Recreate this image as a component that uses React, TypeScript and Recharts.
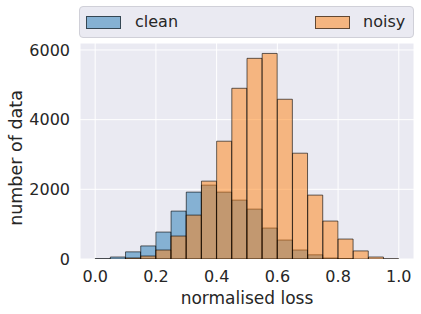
import { ComposedChart, Bar, XAxis, YAxis, CartesianGrid, Label } from "recharts";

// histogram bins: 20 bins of width 0.05 over [0, 1], listed by left edge
const binStarts = [
  0.0, 0.05, 0.1, 0.15, 0.2, 0.25, 0.3, 0.35, 0.4, 0.45,
  0.5, 0.55, 0.6, 0.65, 0.7, 0.75, 0.8, 0.85, 0.9, 0.95,
];
const BIN_WIDTH = 0.05;
const cleanCounts = [10, 57, 205, 375, 773, 1375, 1920, 2120, 1920, 1690, 1432, 888, 544, 258, 120, 29, 10, 0, 0, 0];
const noisyCounts = [0, 0, 30, 86, 258, 659, 1260, 2235, 3381, 4900, 5760, 5900, 4585, 3037, 1834, 1089, 573, 232, 57, 6];
const xTicks = [0, 0.2, 0.4, 0.6, 0.8, 1.0];
const yTicks = [0, 2000, 4000, 6000];

const data = binStarts.map((s, i) => ({
  mid: +(s + BIN_WIDTH / 2).toFixed(3),
  clean: cleanCounts[i],
  noisy: noisyCounts[i],
}));

const FONT = "'DejaVu Sans', sans-serif";
const TEXT = "#262626";
const BG = "#eaeaf2";
const W = 421;
const H = 314;
const X_DOMAIN = [-0.05, 1.05];

function LegendBox() {
  const patch = (color: string) => (
    <span
      style={{
        display: "inline-block",
        width: 33,
        height: 11,
        background: color,
        border: "1px solid rgba(0,0,0,0.6)",
      }}
    />
  );
  return (
    <div
      style={{
        position: "absolute",
        left: 79,
        top: 6,
        width: 333,
        height: 30,
        background: BG,
        border: "1px solid #d0d0d8",
        borderRadius: 4,
        fontFamily: FONT,
        fontSize: 16,
        color: TEXT,
      }}
    >
      <div style={{ position: "absolute", left: 6, top: 8.5, lineHeight: 0 }}>{patch("rgba(31,119,180,0.5)")}</div>
      <div style={{ position: "absolute", left: 55, top: 5, lineHeight: "20px" }}>clean</div>
      <div style={{ position: "absolute", left: 235, top: 8.5, lineHeight: 0 }}>{patch("rgba(255,127,14,0.5)")}</div>
      <div style={{ position: "absolute", left: 283, top: 5, lineHeight: "20px" }}>noisy</div>
    </div>
  );
}

export default function App() {
  return (
    <div style={{ position: "absolute", left: 0, top: 0, width: W, height: H, background: "#fff" }}>
      <ComposedChart
        width={W}
        height={H}
        data={data}
        margin={{ top: 43, right: 7, left: 8, bottom: 0 }}
        barCategoryGap={0}
        barGap={0}
      >
        <CartesianGrid xAxisId="x" fill={BG} stroke="#ffffff" strokeWidth={1} strokeDasharray="" />
        <XAxis
          xAxisId="x"
          dataKey="mid"
          type="number"
          domain={X_DOMAIN}
          ticks={xTicks}
          tickFormatter={(v: number) => v.toFixed(1)}
          tickLine={false}
          axisLine={false}
          tickMargin={6}
          height={55}
          tick={{ fill: TEXT, fontSize: 16, fontFamily: FONT }}
          allowDataOverflow
        >
          <Label
            value="normalised loss"
            position="insideBottom"
            offset={10}
            style={{ fill: TEXT, fontSize: 17, fontFamily: FONT }}
          />
        </XAxis>
        <XAxis
          xAxisId="x2"
          dataKey="mid"
          type="number"
          domain={X_DOMAIN}
          hide
          orientation="top"
          height={0}
          allowDataOverflow
        />
        <YAxis
          domain={[0, 6200]}
          ticks={yTicks}
          width={72}
          tickLine={false}
          axisLine={false}
          tickMargin={4}
          tick={{ fill: TEXT, fontSize: 16, fontFamily: FONT }}
          allowDataOverflow
        >
          <Label
            content={() => (
              <text
                x={16}
                y={158}
                transform="rotate(-90, 16, 158)"
                textAnchor="middle"
                dominantBaseline="central"
                fill={TEXT}
                fontSize={17.5}
                fontFamily={FONT}
              >
                number of data
              </text>
            )}
          />
        </YAxis>
        <Bar
          xAxisId="x"
          dataKey="clean"
          name="clean"
          fill="#1f77b4"
          fillOpacity={0.5}
          stroke="#000"
          strokeOpacity={0.6}
          strokeWidth={1}
          isAnimationActive={false}
        />
        <Bar
          xAxisId="x2"
          dataKey="noisy"
          name="noisy"
          fill="#ff7f0e"
          fillOpacity={0.5}
          stroke="#000"
          strokeOpacity={0.6}
          strokeWidth={1}
          isAnimationActive={false}
        />
      </ComposedChart>
      <LegendBox />
    </div>
  );
}
